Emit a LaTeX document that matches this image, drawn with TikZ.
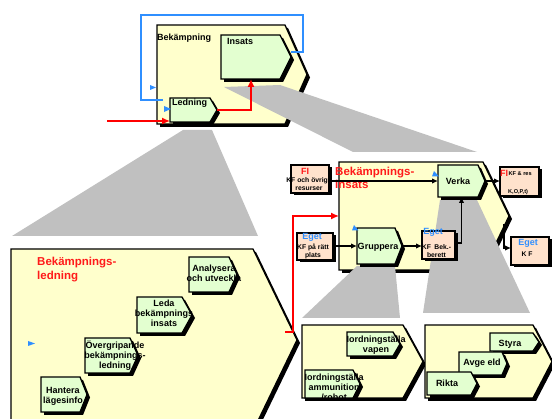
\documentclass[tikz,border=0pt]{standalone}
\usepackage{fontspec}
\setmainfont{Liberation Sans}
\usetikzlibrary{calc,arrows.meta}

\definecolor{chevyellow}{HTML}{FFFFCC}
\definecolor{chevgreen}{HTML}{E3FFD0}
\definecolor{boxpeach}{HTML}{FFE2CC}
\definecolor{zoomgray}{HTML}{C0C0C0}
\definecolor{flagblue}{HTML}{2F8FFF}
\definecolor{titlered}{HTML}{FF1A1A}

\tikzset{
  outline/.style={draw=black, line width=1.3pt, line join=miter},
  flow/.style={draw=black, line width=1.3pt, -{Latex[length=6pt,width=5.5pt]}},
  redflow/.style={draw=red, line width=1.4pt, -{Latex[length=8pt,width=7pt]}},
  loopline/.style={draw=flagblue, line width=1.3pt},
  flag/.style={fill=flagblue},
  steplabel/.style={inner sep=0, align=center, font=\bfseries\fontsize{9}{10}\selectfont},
  titlelabel/.style={inner sep=0, align=left, text=titlered, font=\bfseries\fontsize{11.5}{13.5}\selectfont},
  boxhead/.style={inner sep=0, font=\bfseries\fontsize{9}{10}\selectfont},
  boxtext/.style={inner sep=0, align=center, font=\bfseries\fontsize{6.8}{8}\selectfont},
  tinytext/.style={inner sep=0, font=\bfseries\fontsize{5.6}{6}\selectfont},
}

% #1 fill, #2 node name, #3 left x, #4 top y, #5 tip x, #6 bottom y, #7 pointer depth
\newcommand\drawchevron[7]{%
  \fill[black, shift={(3,3)}] (#3,#4) -- ({#5-#7},#4) -- (#5,{(#4+#6)/2}) -- ({#5-#7},#6) -- (#3,#6) -- cycle;
  \filldraw[fill=#1, outline] (#3,#4) -- ({#5-#7},#4) -- (#5,{(#4+#6)/2}) -- ({#5-#7},#6) -- (#3,#6) -- cycle;
  \node[inner sep=0, outer sep=0, minimum width={(#5-#3)*1pt}, minimum height={(#6-#4)*1pt}, anchor=north west] (#2) at (#3,#4) {};
}
% #1 node name, #2 left x, #3 top y, #4 right x, #5 bottom y
\newcommand\drawresbox[5]{%
  \fill[black, shift={(2.5,2.5)}] (#2,#3) rectangle (#4,#5);
  \node[fill=boxpeach, outline, inner sep=0, outer sep=0, minimum width={(#4-#2)*1pt}, minimum height={(#5-#3)*1pt}, anchor=north west] (#1) at (#2,#3) {};
}

\begin{document}
\begin{tikzpicture}[x=1pt,y=-1pt]
\useasboundingbox (0,0) rectangle (552,419);
\clip (0,0) rectangle (552,419);

% process containers
\drawchevron{chevyellow}{bek}{157}{25}{307}{124}{22}
\drawchevron{chevyellow}{bl}{11}{249}{297}{431}{44}
\drawchevron{chevyellow}{bi}{339}{162}{509}{270}{26}
\drawchevron{chevyellow}{ic}{302}{325}{423}{398}{20}
\drawchevron{chevyellow}{vc}{425}{325}{552}{398}{19}

% zoom wedges from a step to its refinement
\fill[zoomgray] (183,130) -- (212,130) -- (258,236) -- (12,236) -- cycle;
\fill[zoomgray] (224,87) -- (280,85) -- (477,152) -- (353,152) -- cycle;
\fill[zoomgray] (357,266) -- (395,266) -- (400,318) -- (302,318) -- cycle;
\fill[zoomgray] (440,200) -- (477,200) -- (530,313) -- (423,313) -- cycle;

% process steps
\drawchevron{chevgreen}{ins}{221}{35}{291}{79}{11}
\drawchevron{chevgreen}{led}{170}{98}{217}{122}{7}
\drawchevron{chevgreen}{verka}{438}{165}{485}{197}{7}
\drawchevron{chevgreen}{grp}{357}{228}{402}{264}{7}
\drawchevron{chevgreen}{ana}{189}{257}{237}{292}{8}
\drawchevron{chevgreen}{leda}{137}{297}{192}{333}{10}
\drawchevron{chevgreen}{overg}{85}{338}{138}{373}{8}
\drawchevron{chevgreen}{hant}{41}{377}{87}{412}{7}
\drawchevron{chevgreen}{vapen}{347}{332}{400}{356}{7}
\drawchevron{chevgreen}{ammo}{305}{370}{360}{398}{7}
\drawchevron{chevgreen}{styra}{490}{333}{539}{351}{6}
\drawchevron{chevgreen}{avge}{459}{352}{507}{375}{5}
\drawchevron{chevgreen}{rikta}{427}{372}{477}{395}{6}

% resources
\drawresbox{fiL}{291}{165}{329}{193}
\drawresbox{egL}{297}{233}{333}{260}
\drawresbox{egM}{422}{231}{455}{259}
\drawresbox{fiR}{500}{167}{539}{196}
\drawresbox{egR}{511}{237}{549}{265}

% labels
\node[steplabel, anchor=west] (t-bek) at (157,38) {Bekämpning};
\node[steplabel, anchor=west] (t-ins) at (227,41) {Insats};
\node[steplabel, anchor=west] (t-led) at (172,103) {Ledning};
\node[titlelabel, anchor=north west] (t-bl) at (37,257) {Bekämpnings-\\ledning};
\node[titlelabel, anchor=north west] (t-bi) at (335,166.5) {Bekämpnings-\\insats};
\node[steplabel] (t-verka) at (458,181) {Verka};
\node[steplabel] (t-grp) at (378,247) {Gruppera};
\node[steplabel] (t-ana) at (214,273.5) {Analysera\\och utveckla};
\node[steplabel] (t-leda) at (164,313.5) {Leda\\bekämpnings\\insats};
\node[steplabel] (t-overg) at (115,355.5) {Övergripande\\bekämpnings-\\ledning};
\node[steplabel] (t-hant) at (63,396) {Hantera\\lägesinfo};
\node[steplabel] (t-vapen) at (376,345.5) {Iordningställa\\vapen};
\node[steplabel] (t-ammo) at (334,387.5) {Iordningställa\\ammunition\\/robot};
\node[steplabel] (t-styra) at (510,344) {Styra};
\node[steplabel] (t-avge) at (482,363) {Avge eld};
\node[steplabel] (t-rikta) at (447,383) {Rikta};

\node[boxhead, text=titlered] (fiL-h) at (305,171) {FI};
\node[boxtext] (fiL-t) at (309,184) {KF och övriga\\resurser};
\node[boxhead, text=flagblue] (egL-h) at (312,237) {Eget};
\node[boxtext] (egL-t) at (313,251) {KF på rätt\\plats};
\node[boxhead, text=flagblue] (egM-h) at (433,232.5) {Eget};
\node[boxtext] (egM-t) at (436.5,251.5) {KF\enspace Bek.-\\berett};
\node[boxhead, text=titlered, anchor=west] (fiR-h) at (500,173) {FI};
\node[tinytext, anchor=west] (fiR-t) at (508.5,173.5) {KF \& res};
\node[tinytext, anchor=west] (fiR-b) at (508,192) {K,O,P,t)};
\node[boxhead, text=flagblue] (egR-h) at (528,243.5) {Eget};
\node[boxtext] (egR-t) at (527,254) {K F};

% flows between steps
\draw[flow] (verka.west -| fiL.east) -- (verka.west);
\draw[flow] (grp.west -| egL.east) -- (grp.west);
\draw[flow] (grp.east) -- (grp.east -| egM.west);
\draw[flow] ([yshift=2pt]egM.east) -| (verka.south);
\draw[flow] (verka.east) -- (verka.east -| fiR.west);
\coordinate (bi-out) at (504,224);
\draw[flow] (bi-out) |- ([yshift=3pt]egR.west);

% control flows
\coordinate (red-in) at (107,121);
\draw[redflow] (red-in) -- (red-in -| led.west);
\draw[redflow] (led.east) -| ([xshift=-5pt]ins.south);
\coordinate (red-bl) at (285,332);
\draw[redflow] (red-bl) -- ++(8,0) |- (bi.west);

% feedback loop
\coordinate (loop-start) at (163,100);
\draw[loopline] (loop-start) -- ++(-22,0) |- ++(162,-85) |- ([yshift=5pt]ins.east);

% entry markers
\fill[flag] (150,85) -- (156,87.5) -- (150,90) -- cycle;
\fill[flag] (164,106) -- (171,109) -- (164,112) -- cycle;
\fill[flag] (432,176.5) -- (439,176.5) -- (434,171) -- cycle;
\fill[flag] (352,230.5) -- (358.5,230.5) -- (354,225) -- cycle;
\fill[flag] (28,341) -- (35,343.5) -- (28,346) -- cycle;
\end{tikzpicture}
\end{document}
